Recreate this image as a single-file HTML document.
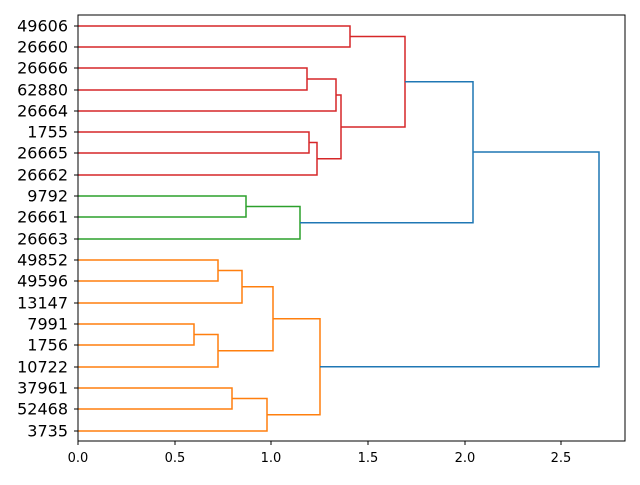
<!DOCTYPE html>
<html><head><meta charset="utf-8"><style>body{margin:0;background:#fff}</style></head><body>
<svg width="640" height="480" xmlns="http://www.w3.org/2000/svg" font-family="DejaVu Sans, Liberation Sans, sans-serif">
<rect width="640" height="480" fill="#fff"/>
<g fill="none" stroke-width="1.5">
<g stroke="#d62728">
<path d="M78,26H350V47H78"/>
<path d="M78,68H307V90H78"/>
<path d="M307,79H336V111H78"/>
<path d="M78,132H309V153H78"/>
<path d="M309,142.5H317V175H78"/>
<path d="M336,95H341V158.75H317"/>
<path d="M350,36.5H405V127H341"/>
</g>
<g stroke="#2ca02c">
<path d="M78,196H246V217H78"/>
<path d="M246,206.5H300V239H78"/>
</g>
<g stroke="#ff7f0e">
<path d="M78,260H218V281H78"/>
<path d="M218,270.5H242V303H78"/>
<path d="M78,324H194V345H78"/>
<path d="M194,334.5H218V367H78"/>
<path d="M242,286.75H273V350.75H218"/>
<path d="M78,388H232V409H78"/>
<path d="M232,398.5H267V431H78"/>
<path d="M273,318.75H320V414.75H267"/>
</g>
<g stroke="#1f77b4">
<path d="M405,81.7H473V222.75H300"/>
<path d="M473,152H599V366.75H320"/>
</g>
</g>
<rect x="78" y="15" width="547" height="426" fill="none" stroke="#000" stroke-width="1"/>
<g stroke="#000">
<path d="M78,441v4M175,441v4M271,441v4M368,441v4M465,441v4M561,441v4"/>
<path d="M78,26h-4M78,47h-4M78,68h-4M78,90h-4M78,111h-4M78,132h-4M78,153h-4M78,175h-4M78,196h-4M78,217h-4M78,239h-4M78,260h-4M78,281h-4M78,303h-4M78,324h-4M78,345h-4M78,367h-4M78,388h-4M78,409h-4M78,431h-4"/>
</g>
<g font-size="13" text-anchor="middle">
<text x="78" y="462">0.0</text><text x="175" y="462">0.5</text><text x="271" y="462">1.0</text>
<text x="368" y="462">1.5</text><text x="465" y="462">2.0</text><text x="561" y="462">2.5</text>
</g>
<g font-size="16" text-anchor="end" dominant-baseline="central">
<text x="68" y="26">49606</text><text x="68" y="47">26660</text><text x="68" y="68">26666</text>
<text x="68" y="90">62880</text><text x="68" y="111">26664</text><text x="68" y="132">1755</text>
<text x="68" y="153">26665</text><text x="68" y="175">26662</text><text x="68" y="196">9792</text>
<text x="68" y="217">26661</text><text x="68" y="239">26663</text><text x="68" y="260">49852</text>
<text x="68" y="281">49596</text><text x="68" y="303">13147</text><text x="68" y="324">7991</text>
<text x="68" y="345">1756</text><text x="68" y="367">10722</text><text x="68" y="388">37961</text>
<text x="68" y="409">52468</text><text x="68" y="431">3735</text>
</g>
</svg>
</body></html>
